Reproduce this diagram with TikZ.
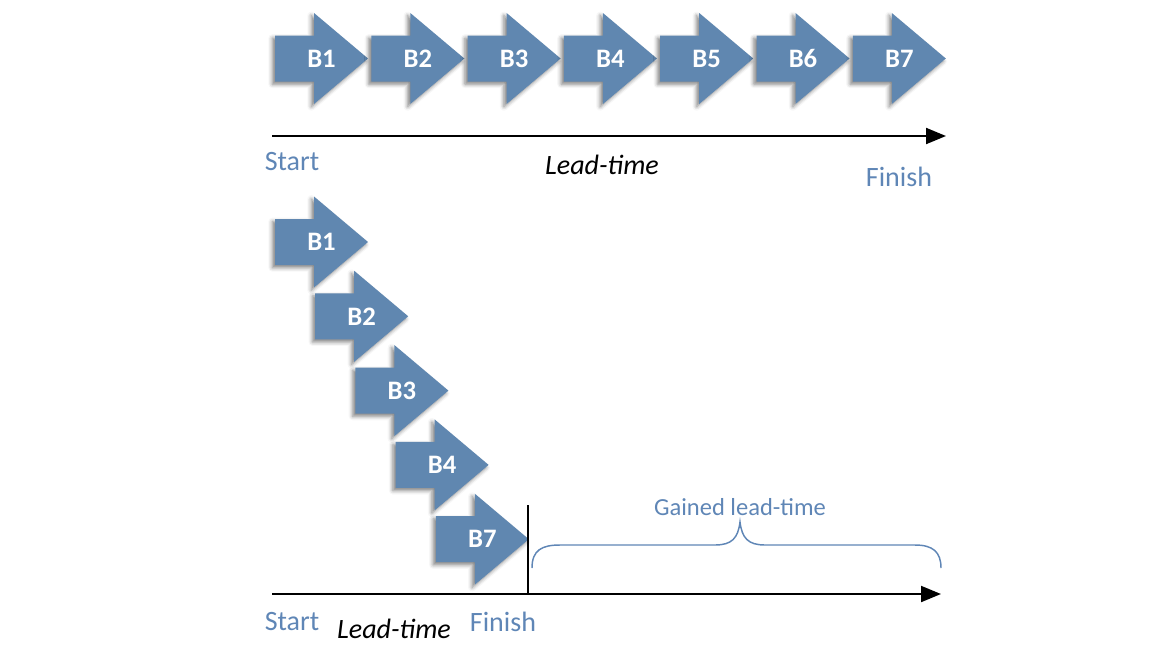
\documentclass[tikz,border=0pt]{standalone}
\usepackage{fontspec}
\setmainfont{Carlito}
\usetikzlibrary{shadows.blur,arrows.meta}
\definecolor{stepblue}{RGB}{96,135,176}
\definecolor{labelblue}{RGB}{95,134,182}

\begin{document}
\begin{tikzpicture}[x=0.75pt,y=-0.75pt,
      stepfill/.style={fill=stepblue,
        blur shadow={shadow xshift=-2pt,shadow yshift=-2pt,shadow blur radius=3pt,shadow opacity=50}},
      steptxt/.style={text=white,font=\fontsize{20}{20}\selectfont\bfseries,inner sep=0pt},
      axis/.style={draw=black,line width=1.5pt,-{Triangle[length=15pt,width=12pt,fill=black]}},
      bluetxt/.style={text=labelblue,font=\fontsize{21}{21}\selectfont},
      leadtxt/.style={font=\fontsize{21}{21}\selectfont\itshape}]
      \useasboundingbox (0,0) rectangle (1164,644);
      % sequential batches
      \foreach \i in {1,...,7}{
        \fill[stepfill,shift={({275+96.3*(\i-1)},58.5)}] (0,-23) -- (39,-23) -- (39,-45.5)
          -- (93,0) -- (39,45.5) -- (39,23) -- (0,23) -- cycle;
        \node[steptxt] (t\i) at ({321.5+96.3*(\i-1)},58.5) {B\i};
      }
      \coordinate (s1) at (272,136);
      \coordinate (f1) at (946,136);
      \draw[axis] (s1) -- (f1);
      \node[bluetxt] (start1) at (292,162) {Start};
      \node[leadtxt] (lead1) at (602,165) {Lead-time};
      \node[bluetxt] (finish1) at (899,177) {Finish};
      % overlapping batches
      \foreach \i/\b in {0/1,1/2,2/3,3/4,4/7}{
        \fill[stepfill,shift={({275+40.2*\i},{242+74.3*\i})}] (0,-23) -- (39,-23) -- (39,-45.5)
          -- (93,0) -- (39,45.5) -- (39,23) -- (0,23) -- cycle;
        \node[steptxt] (b\b) at ({321.5+40.2*\i},{242+74.3*\i}) {B\b};
      }
      \coordinate (s2) at (272,594);
      \coordinate (f2) at (941,594);
      \draw[axis] (s2) -- (f2);
      \coordinate (fin) at (528,505);
      \draw[line width=1.1pt] (fin) -- (fin |- s2);
      \node[bluetxt] (start2) at (292,622) {Start};
      \node[leadtxt] (lead2) at (394,629) {Lead-time};
      \node[bluetxt] (finish2) at (503,622) {Finish};
      % gained part
      \coordinate (gl) at (532,568);
      \coordinate (gr) at (941,568);
      \draw[labelblue,line width=1.1pt] (gl) .. controls (532,550) and (542,545) .. (560,545)
        -- (715,545) .. controls (732,545) and (738,538) .. (740,522)
        .. controls (742,538) and (748,545) .. (765,545) -- (915,545)
        .. controls (933,545) and (941,552) .. (gr);
      \node[bluetxt,font=\fontsize{18.4}{18.4}\selectfont] (gained) at (740,507) {Gained lead-time};
    \end{tikzpicture}
\end{document}
